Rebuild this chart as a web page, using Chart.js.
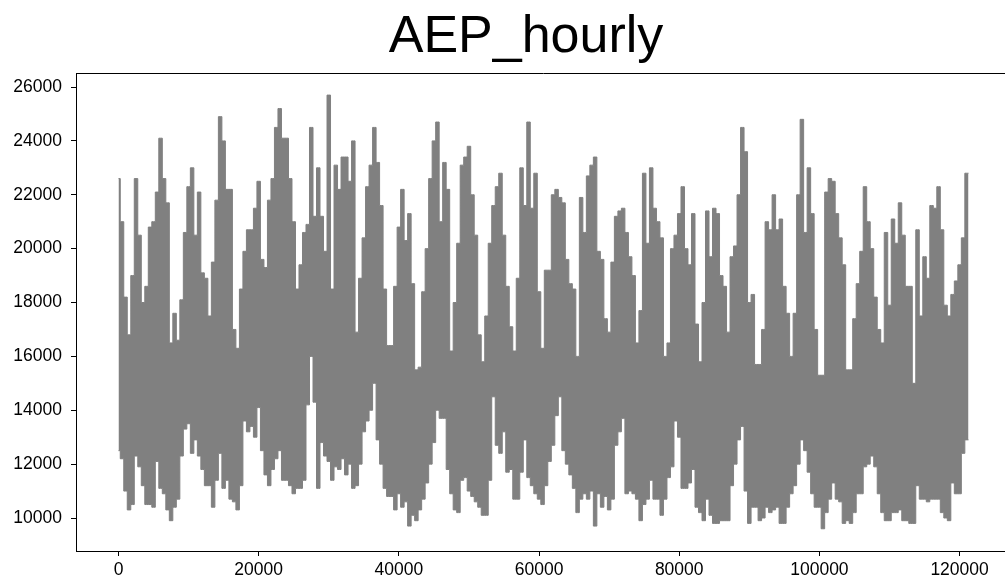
<!DOCTYPE html>
<html>
<head>
<meta charset="utf-8">
<script src="https://cdn.jsdelivr.net/npm/chart.js@4.4.1/dist/chart.umd.min.js"></script>
<style>
  html, body { margin: 0; padding: 0; background: #fff; overflow: hidden; }
  canvas { display: block; }
</style>
</head>
<body>
<canvas id="c" width="1013" height="582"></canvas>
<script>
const chartTitle = 'AEP_hourly';

// upper / lower envelope of AEP_MW, one value per 500 hours
const upperMW = [
  22600,21000,18200,16800,19000,22600,20500,18000,18600,20800,
  21000,22100,24100,22600,21700,16500,17600,16600,18100,20600,
  22300,23000,20500,22100,19100,18900,17500,19500,21800,24900,
  24000,22200,22200,17000,16300,18500,19900,20700,20700,21500,
  22500,19600,19300,21800,22600,24500,25200,24100,24100,22600,
  21000,18500,19400,20600,20900,24500,21200,23000,21200,19900,
  25700,18500,23100,22200,23400,23400,22500,24000,16900,18900,
  20400,22300,23100,24500,23200,21600,18500,16400,16400,18600,
  20800,22200,20300,21300,18700,15500,15600,18400,20000,22600,
  24000,24700,21000,23200,22200,16200,18000,20200,23100,23400,
  23800,22000,20500,16800,15800,17500,20200,21600,22300,22800,
  20500,18600,17100,16200,18900,23000,21600,24700,21500,22800,
  18400,16300,19200,19200,22000,22200,21900,21700,19600,18700,
  18500,16000,21900,20600,22700,23100,23400,19900,19600,17400,
  16900,19500,21200,21400,21500,20600,19700,19000,16500,17700,
  22800,20200,23000,21500,21000,20400,16000,16500,20000,20500,
  21300,22300,20000,19400,21300,17200,15800,18000,21400,19700,
  21500,21300,19000,18600,16900,19700,20100,22000,24500,23600,
  18000,18300,15700,15700,17000,21000,20700,22000,20700,21100,
  18600,17600,16000,17600,22000,24800,20600,23000,21300,17000,
  15300,15300,22100,22600,22500,21300,20400,19400,15500,15500,
  17400,18700,19900,22300,21000,20000,18200,17000,16500,20600,
  17900,21100,20200,21700,20500,18600,18600,15000,20700,17500,
  19700,18900,21600,21500,22300,20700,17900,17500,18300,18800,
  19400,20400,22800,22800
];

const lowerMW = [
  12500,12200,11000,10300,10500,12300,11900,11200,10500,10500,
  10400,12100,11100,10900,10300,9900,10400,10700,12300,13300,
  13500,12400,12900,12300,11800,11200,11200,10400,11400,12400,
  11100,11400,10700,10600,10300,11200,13600,13200,13400,13000,
  14100,12500,11600,11200,11800,12200,12500,11400,11400,11200,
  10900,11100,11100,11400,14200,16000,14300,11100,12800,12300,
  12100,11400,11900,11800,12200,11600,12000,11100,11200,12000,
  13200,13600,14000,15000,12900,12000,11100,10800,10800,10300,
  10900,10400,10600,9700,10100,9900,10300,10700,11300,12000,
  12800,14000,13700,13700,11800,10900,10300,10200,11400,11500,
  11000,10800,10600,10400,10100,10100,11400,14500,12700,12400,
  13200,11700,11800,10700,10700,11700,12900,11500,11200,10900,
  10700,10500,11200,12100,12700,13800,14500,12500,12000,11600,
  11100,10200,10700,10900,10700,11000,9700,10900,10400,10800,
  10300,10700,12700,13200,13700,10900,11000,10900,10700,9900,
  10500,10700,11400,10700,10700,10100,10700,11500,11900,13600,
  13000,11100,11100,11300,11800,10400,10200,9900,10700,10100,
  9800,9800,9900,9900,9900,11200,12000,12900,13400,11000,
  9800,10400,10400,9900,10000,10400,10200,10300,10400,9800,
  9800,10400,10900,11200,12000,12900,12500,11700,10900,10400,
  10400,9600,10200,10700,11300,10700,10600,9800,9900,9800,
  10200,10900,10900,11900,12000,12300,11900,10900,10200,9900,
  9900,10200,10200,10300,9900,9900,9800,9800,11200,10700,
  10700,10600,10700,10700,10700,10200,10000,9900,11300,10900,
  10900,12400,12900,12900
];

// hour index of each sample (every 500 hours, last sample = last row 121272)
const lastHour = 121272;
const hourIndex = upperMW.map((_, k) => Math.min(k * 500, lastHour));

const xTickValues = [0,20000,40000,60000,80000,100000,120000];
const yTickValues = [10000,12000,14000,16000,18000,20000,22000,24000,26000];

const grey = 'rgb(128,128,128)';
const tickFont = { family: 'Liberation Sans', size: 17.5 };

const framePlugin = {
  id: 'frame',
  afterDraw(chart) {
    const { ctx, chartArea: a } = chart;
    ctx.save();
    ctx.strokeStyle = '#000';
    ctx.lineWidth = 1;
    ctx.beginPath();
    ctx.moveTo(a.left, a.top + 0.5);
    ctx.lineTo(a.right, a.top + 0.5);
    ctx.moveTo(a.right - 0.5, a.top);
    ctx.lineTo(a.right - 0.5, a.bottom);
    ctx.stroke();
    ctx.restore();
  }
};

const titlePlugin = {
  id: 'mplTitle',
  afterDraw(chart) {
    const ctx = chart.ctx;
    ctx.save();
    ctx.fillStyle = '#000';
    ctx.font = '52px "Liberation Sans"';
    ctx.textAlign = 'center';
    ctx.textBaseline = 'alphabetic';
    ctx.fillText(chartTitle, 526, 52);
    ctx.restore();
  }
};

new Chart(document.getElementById('c'), {
  type: 'line',
  data: {
    datasets: [
      {
        data: upperMW.map((v, i) => ({ x: hourIndex[i], y: v })),
        borderColor: grey,
        backgroundColor: grey,
        borderWidth: 1,
        stepped: 'middle',
        pointRadius: 0,
        fill: '+1'
      },
      {
        data: lowerMW.map((v, i) => ({ x: hourIndex[i], y: v })),
        borderColor: grey,
        backgroundColor: grey,
        borderWidth: 1,
        stepped: 'middle',
        pointRadius: 0,
        fill: false
      }
    ]
  },
  options: {
    responsive: false,
    animation: false,
    layout: { padding: { top: 73, right: 2, left: 0, bottom: 0 } },
    plugins: {
      legend: { display: false },
      tooltip: { enabled: false },
      title: { display: false }
    },
    scales: {
      x: {
        type: 'linear',
        min: -6064,
        max: 127336,
        afterBuildTicks: s => { s.ticks = xTickValues.map(v => ({ value: v })); },
        afterFit: s => { s.height = 31; },
        ticks: {
          callback: v => String(v),
          font: tickFont,
          color: '#000',
          padding: 4,
          maxRotation: 0,
          autoSkip: false
        },
        grid: { drawOnChartArea: false, drawTicks: true, tickLength: 5, color: '#000', lineWidth: 1 },
        border: { display: true, color: '#000', width: 1 }
      },
      y: {
        type: 'linear',
        min: 8775,
        max: 26520,
        afterBuildTicks: s => { s.ticks = yTickValues.map(v => ({ value: v })); },
        afterFit: s => { s.width = 76; },
        ticks: {
          callback: v => String(v),
          font: tickFont,
          color: '#000',
          padding: 9,
          autoSkip: false
        },
        grid: { drawOnChartArea: false, drawTicks: true, tickLength: 5, color: '#000', lineWidth: 1 },
        border: { display: true, color: '#000', width: 1 }
      }
    }
  },
  plugins: [framePlugin, titlePlugin]
});
</script>
</body>
</html>
